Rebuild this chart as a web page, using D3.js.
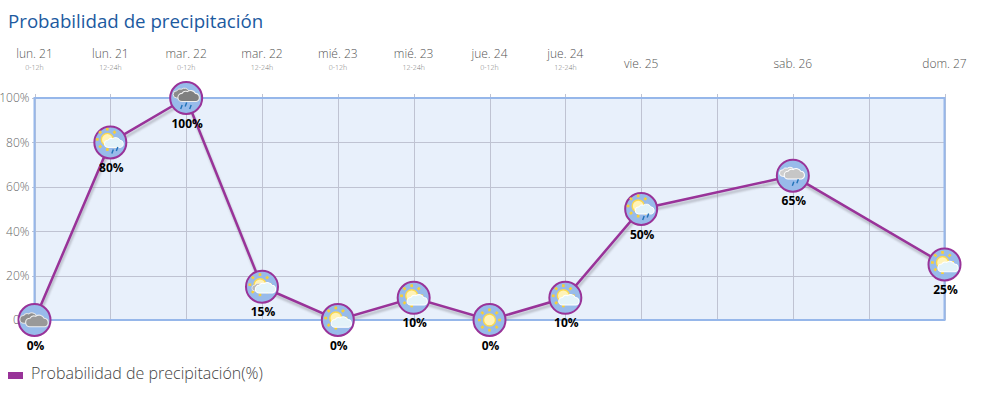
<!DOCTYPE html>
<html>
<head>
<meta charset="utf-8">
<script src="https://cdn.jsdelivr.net/npm/d3@7"></script>
<style>
html, body { margin: 0; padding: 0; background: #fff; overflow: hidden; }
text { font-family: "Open Sans", sans-serif; }
</style>
</head>
<body>
<div id="chart"></div>
<script>
// half day slots, the last days only have one value each
var slots = [0, 1, 2, 3, 4, 5, 6, 7, 8, 10, 12];
var days = ["lun. 21", "lun. 21", "mar. 22", "mar. 22", "mié. 23", "mié. 23", "jue. 24", "jue. 24", "vie. 25", "sab. 26", "dom. 27"];
var hours = ["0-12h", "12-24h", "0-12h", "12-24h", "0-12h", "12-24h", "0-12h", "12-24h", "", "", ""];
var rain = [0, 80, 100, 15, 0, 10, 0, 10, 50, 65, 25];
var icons = ["clouds", "sunrain", "storm", "sungrey", "suncloud", "suncloud", "sun", "suncloud", "sunrain", "greyrain", "suncloud"];
var gridSlots = [0, 1, 2, 3, 4, 5, 6, 7, 8, 9, 10, 11, 12];
var yTicks = [0, 20, 40, 60, 80, 100];
var yLabels = ["0%", "20%", "40%", "60%", "80%", "100%"];

var margin = {top: 98, right: 44.5, bottom: 75, left: 34.5},
    width = 989 - margin.left - margin.right,
    height = 395 - margin.top - margin.bottom;

var x = d3.scaleLinear().domain([0, 12]).range([0, width]);
var y = d3.scaleLinear().domain([0, 100]).range([height, 0]);

var svg = d3.select("#chart").append("svg")
    .attr("width", 989)
    .attr("height", 395)
    .style("display", "block");

var defs = svg.append("defs");
defs.append("filter").attr("id", "shadow")
    .attr("x", "-5%").attr("y", "-5%").attr("width", "110%").attr("height", "110%")
    .append("feGaussianBlur").attr("stdDeviation", 1);

svg.append("text")
    .attr("x", 8).attr("y", 28)
    .style("font-size", "18.7px")
    .style("fill", "#1c5a9f")
    .text("Probabilidad de precipitación");

var g = svg.append("g")
    .attr("transform", "translate(" + margin.left + "," + margin.top + ")");

g.append("rect")
    .attr("width", width).attr("height", height)
    .attr("fill", "#e8f0fb");

// grid, the ticks stick out a little over the plot
var xGrid = g.append("g")
    .call(d3.axisTop(x).tickValues(gridSlots).tickSize(-height).tickSizeOuter(0).tickFormat(""));
xGrid.select(".domain").remove();
xGrid.selectAll("line").attr("stroke", "#bfc3d2").attr("y1", -4).attr("shape-rendering", "crispEdges");

var yGrid = g.append("g")
    .call(d3.axisLeft(y).tickValues(yTicks).tickSize(-width).tickSizeOuter(0)
        .tickFormat(function(d, i) { return yLabels[i]; }));
yGrid.select(".domain").remove();
yGrid.selectAll("line").attr("stroke", "#bfc3d2").attr("x1", -3).attr("shape-rendering", "crispEdges");
yGrid.selectAll("text")
    .attr("x", -5)
    .style("font-size", "12px")
    .style("font-weight", 300)
    .style("fill", "#666");

g.append("rect")
    .attr("width", width).attr("height", height)
    .attr("fill", "none")
    .attr("stroke", "#96b7ea")
    .attr("stroke-width", 2);

// day labels over the plot
var heads = svg.append("g").selectAll("g")
    .data(slots)
    .enter().append("g")
    .attr("transform", function(d) { return "translate(" + (margin.left + x(d)) + ",0)"; })
    .attr("text-anchor", "middle");
heads.append("text")
    .attr("y", function(d, i) { return hours[i] ? 58 : 68; })
    .style("font-size", "12px")
    .style("font-weight", 300)
    .style("fill", "#555")
    .text(function(d, i) { return days[i]; });
heads.append("text")
    .attr("y", 70)
    .style("font-size", "7px")
    .style("font-weight", 300)
    .style("fill", "#777")
    .text(function(d, i) { return hours[i]; });

var line = d3.line()
    .x(function(d, i) { return x(slots[i]); })
    .y(function(d) { return y(d); });

g.append("path")
    .datum(rain)
    .attr("d", line)
    .attr("transform", "translate(1,3)")
    .attr("fill", "none")
    .attr("stroke", "#8d8d99")
    .attr("stroke-width", 2.5)
    .attr("opacity", 0.55)
    .attr("filter", "url(#shadow)");

g.append("path")
    .datum(rain)
    .attr("d", line)
    .attr("fill", "none")
    .attr("stroke", "#993399")
    .attr("stroke-width", 2.5);

// weather icon helpers, drawn around the marker centre
function cloud(p, cx, cy, s, fill, edge) {
    var c = p.append("g").attr("transform", "translate(" + cx + "," + cy + ") scale(" + s + ")");
    c.append("path")
        .attr("d", "M-8,5 A4.5,4.5 0 0 1 -8,-4 A5,5 0 0 1 -2,-6 A6,6 0 0 1 7,-4 A4.6,4.6 0 0 1 8,5 Z")
        .attr("fill", fill)
        .attr("stroke", edge)
        .attr("stroke-width", 1.2);
}
function sun(p, cx, cy, r) {
    d3.range(8).forEach(function(i) {
        p.append("rect")
            .attr("x", -1.3).attr("y", -r - 5.5)
            .attr("width", 2.6).attr("height", 2.8)
            .attr("fill", "#f7cf37")
            .attr("transform", "translate(" + cx + "," + cy + ") rotate(" + i * 45 + ")");
    });
    p.append("circle")
        .attr("cx", cx).attr("cy", cy).attr("r", r)
        .attr("fill", "#fff3b8")
        .attr("stroke", "#fbd94f")
        .attr("stroke-width", 1.4);
}
function drops(p, cx, cy, n) {
    d3.range(n).forEach(function(i) {
        p.append("line")
            .attr("x1", cx + i * 4.5).attr("y1", cy - (i % 2) * 2.5)
            .attr("x2", cx + i * 4.5 - 1.5).attr("y2", cy + 4 - (i % 2) * 2.5)
            .attr("stroke", "#1f72b8")
            .attr("stroke-width", 1.4);
    });
}
var iconDraw = {
    clouds: function(p) {
        cloud(p, -4, -1, 0.85, "#8f8f8f", "#e6e6e6");
        cloud(p, 3, 2, 0.95, "#999", "#eee");
    },
    storm: function(p) {
        cloud(p, -3, -4, 0.8, "#8a8a8a", "#eee");
        cloud(p, 3, -1, 0.9, "#7f7f7f", "#eee");
        drops(p, -4, 7, 3);
    },
    greyrain: function(p) {
        cloud(p, -4, -3, 0.75, "#cfcfcf", "#fff");
        cloud(p, 2, -1, 0.85, "#c6c6c6", "#fff");
        drops(p, 1, 6, 2);
    },
    sun: function(p) { sun(p, 0, 0, 6); },
    suncloud: function(p) {
        sun(p, -2, -2, 6);
        cloud(p, 4, 3, 0.85, "#e3f3f9", "#fff");
    },
    sungrey: function(p) {
        sun(p, -2, -2, 6);
        cloud(p, -2, 1, 0.65, "#bbb", "#eee");
        cloud(p, 4, 2, 0.85, "#e3f3f9", "#fff");
    },
    sunrain: function(p) {
        sun(p, -3, -3, 6);
        cloud(p, 4, 1, 0.8, "#e3f3f9", "#fff");
        drops(p, 3, 7, 2);
    }
};

var points = g.append("g").selectAll("g")
    .data(rain)
    .enter().append("g")
    .attr("transform", function(d, i) { return "translate(" + x(slots[i]) + "," + y(d) + ")"; });

points.append("circle")
    .attr("r", 16)
    .attr("fill", "#98bbea")
    .attr("stroke", "#993399")
    .attr("stroke-width", 2);

points.each(function(d, i) { iconDraw[icons[i]](d3.select(this)); });

points.append("text")
    .attr("x", 1)
    .attr("y", 29.5)
    .attr("text-anchor", "middle")
    .style("font-size", "12px")
    .style("font-weight", 700)
    .style("fill", "#000")
    .text(function(d) { return d + "%"; });

// legend
svg.append("rect")
    .attr("x", 8).attr("y", 372)
    .attr("width", 15).attr("height", 7)
    .attr("fill", "#993399");
svg.append("text")
    .attr("x", 31).attr("y", 379)
    .style("font-size", "16px")
    .style("font-weight", 300)
    .style("fill", "#444")
    .text("Probabilidad de precipitación(%)");
</script>
</body>
</html>
